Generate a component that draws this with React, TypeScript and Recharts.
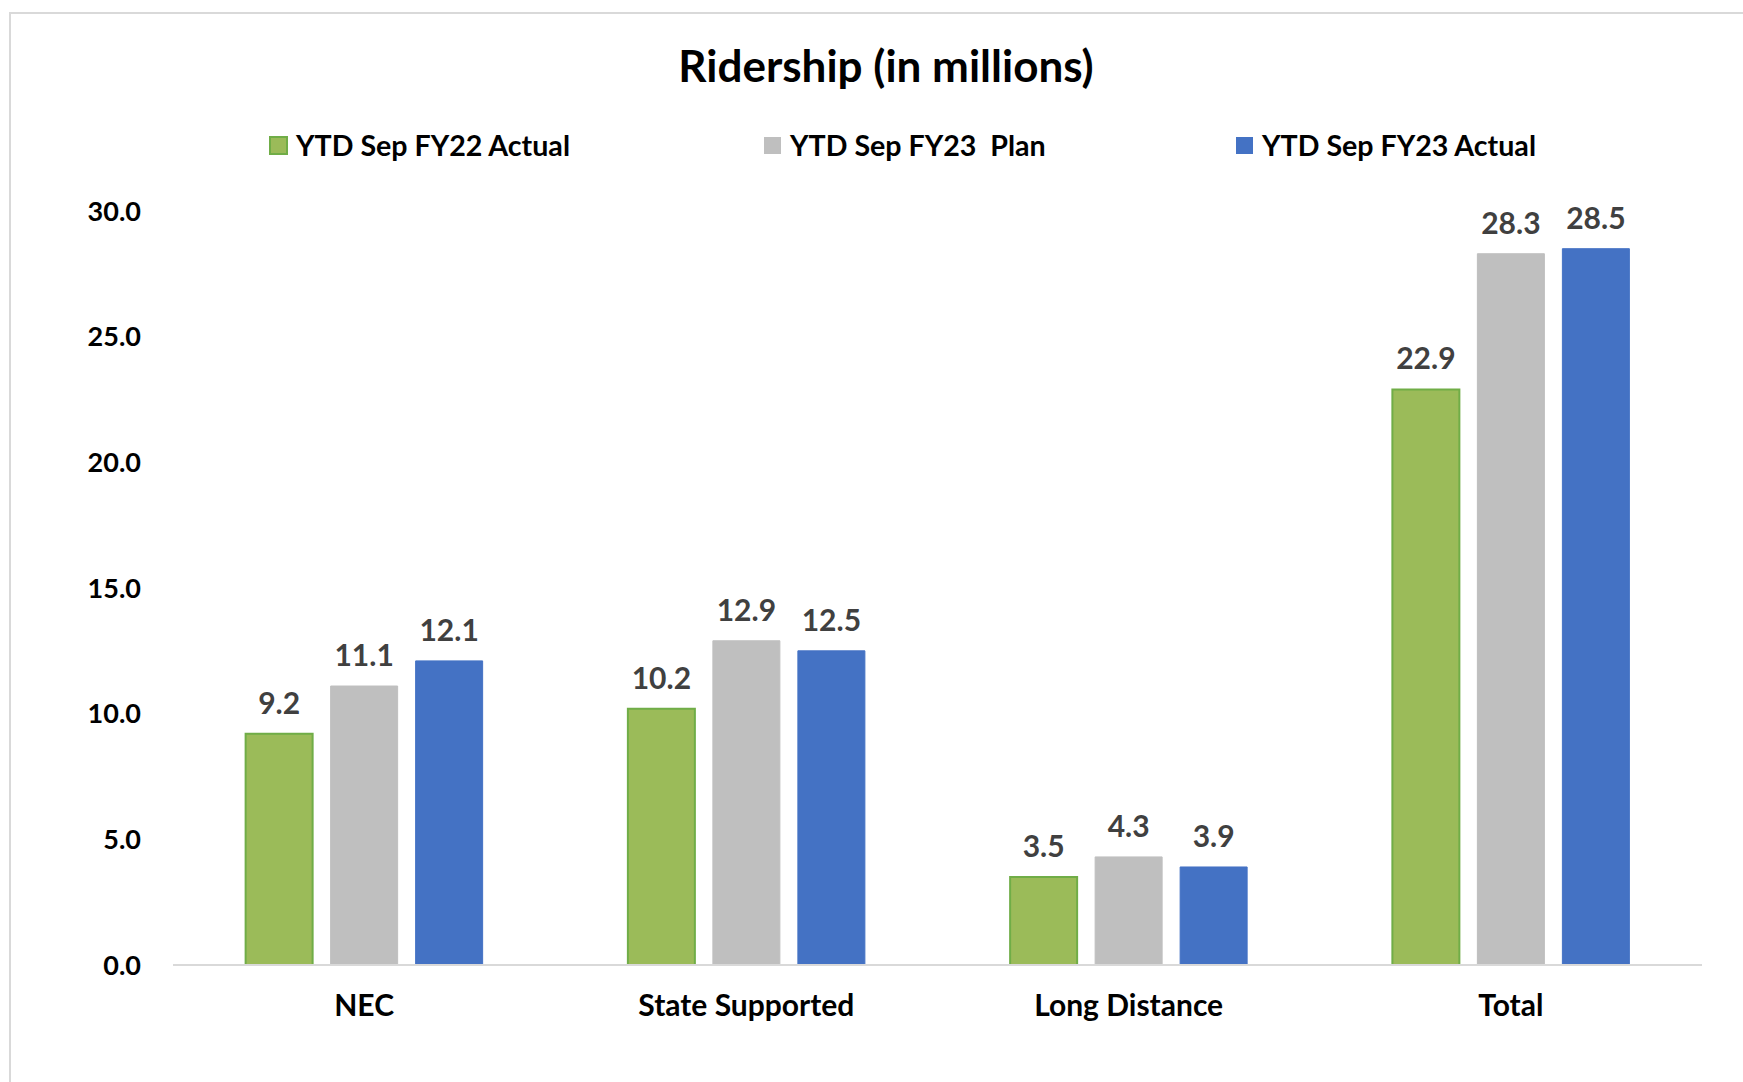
import React from 'react';
import { BarChart, Bar, XAxis, YAxis, LabelList } from 'recharts';

const categories = ['NEC', 'State Supported', 'Long Distance', 'Total'];
const fy22Actual = [9.2, 10.2, 3.5, 22.9];
const fy23Plan = [11.1, 12.9, 4.3, 28.3];
const fy23Actual = [12.1, 12.5, 3.9, 28.5];
const yTicks = [0, 5, 10, 15, 20, 25, 30];
const seriesNames = ['YTD Sep FY22 Actual', 'YTD Sep FY23  Plan', 'YTD Sep FY23 Actual'];
const seriesKeys = ['fy22Actual', 'fy23Plan', 'fy23Actual'];
const seriesFill = ['#9BBB59', '#BFBFBF', '#4472C4'];
const seriesStroke = ['#70AD47', '#BFBFBF', '#4472C4'];
const title = 'Ridership (in millions)';

const data = categories.map((c, i) => ({
  cat: c,
  fy22Actual: fy22Actual[i],
  fy23Plan: fy23Plan[i],
  fy23Actual: fy23Actual[i],
}));

const FONT = 'Lato, "Open Sans", sans-serif';
const legendX = [270, 764, 1236];

export default function App() {
  return (
    <div style={{ position: 'absolute', left: 0, top: 0, width: 1743, height: 1082, overflow: 'hidden', background: '#fff' }}>
      <div style={{ position: 'absolute', left: 9, top: 12, width: 1800, height: 1200, border: '2px solid #D9D9D9' }} />
      <div style={{ position: 'absolute', left: 0, top: 0 }}>
        <BarChart
          width={1743}
          height={1082}
          data={data}
          margin={{ top: 211, right: 41, bottom: 57, left: 1 }}
          barCategoryGap="19%"
          barGap={18}
        >
          <XAxis
            dataKey="cat"
            height={60}
            axisLine={{ stroke: '#D9D9D9', strokeWidth: 2 }}
            tickLine={false}
            tickSize={0}
            tickMargin={30}
            tick={{ fontSize: 30, fontWeight: 'bold', fill: '#000', fontFamily: FONT }}
          />
          <YAxis
            width={172}
            domain={[0, 30]}
            ticks={yTicks}
            axisLine={false}
            tickLine={false}
            tickSize={0}
            tickMargin={32}
            tickFormatter={(v: number) => v.toFixed(1)}
            tick={{ fontSize: 27, fontWeight: 'bold', fill: '#000', fontFamily: FONT }}
          />
          {seriesKeys.map((k, i) => (
            <Bar
              key={k}
              dataKey={k}
              name={seriesNames[i]}
              fill={seriesFill[i]}
              stroke={seriesStroke[i]}
              strokeWidth={i === 0 ? 2 : 1}
              isAnimationActive={false}
            >
              <LabelList
                dataKey={k}
                position="top"
                offset={20}
                fill="#404040"
                fontSize={30}
                fontWeight="bold"
                fontFamily={FONT}
                formatter={(v: any) => Number(v).toFixed(1)}
              />
            </Bar>
          ))}
        </BarChart>
      </div>
      <svg width={1743} height={200} style={{ position: 'absolute', left: 0, top: 0, pointerEvents: 'none' }}>
        <text x={886} y={82} textAnchor="middle" fontSize={44} fontWeight="bold" fill="#000" fontFamily={FONT}>
          {title}
        </text>
        {seriesNames.map((n, i) => (
          <g key={n}>
            <rect x={legendX[i]} y={137} width={17} height={17} fill={seriesFill[i]} stroke={seriesStroke[i]} strokeWidth={i === 0 ? 2 : 0} />
            <text x={legendX[i] + 26} y={156} fontSize={28.6} fontWeight="bold" fill="#000" fontFamily={FONT} style={{ whiteSpace: 'pre' }}>
              {n}
            </text>
          </g>
        ))}
      </svg>
    </div>
  );
}
